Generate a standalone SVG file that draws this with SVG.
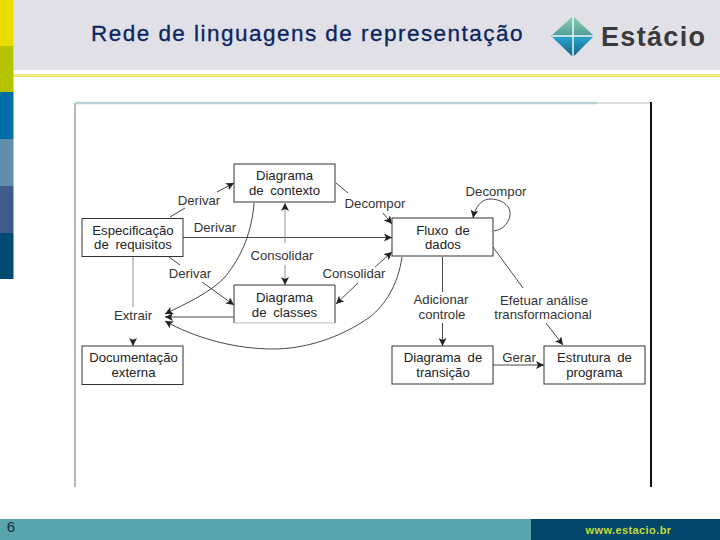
<svg xmlns="http://www.w3.org/2000/svg" width="720" height="540" viewBox="0 0 720 540">
<defs>
<marker id="a" markerUnits="userSpaceOnUse" markerWidth="9" markerHeight="8" refX="8" refY="4" orient="auto"><path d="M0 0L8 4L0 8L2 4Z" fill="#222"/></marker>
<linearGradient id="d1" x1="0" y1="0" x2="0" y2="1"><stop offset="0" stop-color="#8ccfb0"/><stop offset=".5" stop-color="#4f9d98"/><stop offset=".5" stop-color="#2ba6d0"/><stop offset="1" stop-color="#14607f"/></linearGradient>
</defs>
<style>
text{font-family:"Liberation Sans",Arial,sans-serif}
.n{fill:#fff;stroke:#333;stroke-width:1}
.t{font-size:13.2px;fill:#222;text-anchor:middle}
.l{font-size:13.2px;fill:#333;text-anchor:middle}
.c{fill:none;stroke:#333;stroke-width:.9}
.g{fill:none;stroke:#888;stroke-width:.9}
</style>
<rect width="720" height="540" fill="#fff"/>
<g id="header">
<rect x="13.500" width="706.500" height="70" fill="#e0e0e6"/>
<rect x="13.500" y="74" width="706.500" height="3" fill="#eeea80"/>
<rect y="0" width="13.500" height="46" fill="#ebdc00"/>
<rect y="46" width="13.500" height="46" fill="#b5c400"/>
<rect y="92" width="13.500" height="47" fill="#006ea6"/>
<rect y="139" width="13.500" height="47" fill="#5f8fad"/>
<rect y="186" width="13.500" height="47" fill="#3f5b8c"/>
<rect y="233" width="13.500" height="46" fill="#034a72"/>
<text x="91" y="41" font-size="22.500" letter-spacing="1.470" stroke="#0a2560" stroke-width=".3" fill="#0a2560">Rede de linguagens de representação</text>
<path d="M551 36L573 16L594 36L573 57Z" fill="url(#d1)"/>
<path d="M552 36H594M573 16V57" stroke="#e8f6f6" stroke-width="1.5" fill="none"/>
<text x="601" y="46" font-size="27" font-weight="700" fill="#3a3a3c" textLength="104">Estácio</text>
</g>
<g id="frame">
<path d="M75 103V487" stroke="#b8b8b8" stroke-width="2" fill="none"/>
<path d="M75 103H597" stroke="#b4d2d6" stroke-width="2.500" fill="none"/>
<path d="M597 103H651" stroke="#bbb" stroke-width="1" fill="none"/>
<path d="M651 102V487" stroke="#111" stroke-width="2" fill="none"/>
</g>
<g id="connectors">
<path class="c" d="M170 217L185 208"/>
<path class="c" d="M217 192L234 183" marker-end="url(#a)"/>
<path class="c" d="M183 237.500H392" marker-end="url(#a)"/>
<path class="c" d="M169 257L180 265"/>
<path class="c" d="M202 282L234 305" marker-end="url(#a)"/>
<path class="g" d="M133 257V307"/>
<path class="c" d="M133 339V346" marker-end="url(#a)"/>
<path class="c" d="M254 203C252 230 243 255 225 277C210 293 185 304 165 314" marker-end="url(#a)"/>
<path class="c" d="M234 317H165" marker-end="url(#a)"/>
<path class="c" d="M402 257C398 285 385 305 370 317C340 338 305 349 273 349C235 349 195 338 165 321" marker-end="url(#a)"/>
<path class="g" d="M285 243V203" marker-end="url(#a)"/>
<path class="g" d="M285 265V285" marker-end="url(#a)"/>
<path class="c" d="M336 183L348 193"/>
<path class="c" d="M383 213L392 224" marker-end="url(#a)"/>
<path class="c" d="M358 283L336 304" marker-end="url(#a)"/>
<path class="c" d="M375 267L392 252" marker-end="url(#a)"/>
<path class="c" d="M494 231C507 229 511 217 510 212C509 204 500 199 490 199C481 199 475 208 473 218" marker-end="url(#a)"/>
<path class="c" d="M442.500 257V292"/>
<path class="c" d="M442.500 323V346" marker-end="url(#a)"/>
<path class="c" d="M493 247L523 288"/>
<path class="c" d="M546 323L563 345" marker-end="url(#a)"/>
<path class="c" d="M493 365H544" marker-end="url(#a)"/>
</g>
<g id="n1"><rect class="n" x="234" y="164" width="101" height="38"/><text class="t" x="284.500" y="180">Diagrama</text><text class="t" x="284.500" y="195" word-spacing="3">de contexto</text></g>
<g id="n2"><rect class="n" x="82" y="218.500" width="101" height="38"/><text class="t" x="133" y="235">Especificação</text><text class="t" x="133" y="249" word-spacing="3">de requisitos</text></g>
<g id="n3"><path class="n" d="M234 323V285H335V323"/><path d="M234 323H335" stroke="#aaa" stroke-width=".8"/><text class="t" x="284.500" y="302">Diagrama</text><text class="t" x="284.500" y="317" word-spacing="3">de classes</text></g>
<g id="n4"><rect class="n" x="82" y="346" width="101" height="38.500"/><text class="t" x="133.500" y="362">Documentação</text><text class="t" x="133.500" y="377">externa</text></g>
<g id="n5"><rect class="n" x="392" y="218" width="101" height="38"/><text class="t" x="443" y="235" word-spacing="3">Fluxo de</text><text class="t" x="443" y="249">dados</text></g>
<g id="n6"><rect class="n" x="392" y="346" width="101" height="38"/><text class="t" x="443" y="362" word-spacing="3">Diagrama de</text><text class="t" x="443" y="377">transição</text></g>
<g id="n7"><rect class="n" x="544" y="346" width="101" height="38"/><text class="t" x="594.500" y="362" word-spacing="3">Estrutura de</text><text class="t" x="594.500" y="377">programa</text></g>
<g id="labels">
<text class="l" x="199" y="205">Derivar</text>
<text class="l" x="215" y="232">Derivar</text>
<text class="l" x="190" y="278">Derivar</text>
<text class="l" x="133" y="320">Extrair</text>
<text class="l" x="282" y="260">Consolidar</text>
<text class="l" x="354" y="278">Consolidar</text>
<text class="l" x="375" y="208">Decompor</text>
<text class="l" x="496" y="196">Decompor</text>
<text class="l" x="441" y="304">Adicionar</text>
<text class="l" x="442" y="319">controle</text>
<text class="l" x="544" y="305">Efetuar análise</text>
<text class="l" x="543" y="319">transformacional</text>
<text class="l" x="519" y="362">Gerar</text>
</g>
<g id="footer">
<rect y="519" width="720" height="21" fill="#58a5ad"/>
<rect x="531" y="519" width="189" height="21" fill="#03466a"/>
<text x="11" y="532" font-size="15" fill="#1a2a3a" text-anchor="middle">6</text>
<text x="628.500" y="534" font-size="11" font-weight="700" fill="#c4dc3c" text-anchor="middle" letter-spacing=".4">www.estacio.br</text>
</g>
</svg>
